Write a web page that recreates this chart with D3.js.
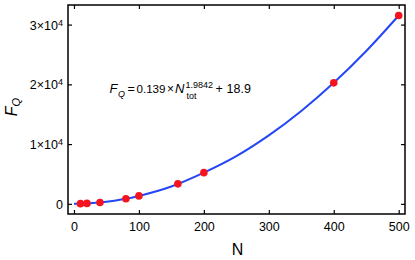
<!DOCTYPE html>
<html>
<head>
<meta charset="utf-8">
<script src="https://cdn.jsdelivr.net/npm/d3@7"></script>
<style>
  body { margin: 0; background: #fff; }
  svg { display: block; font-family: "Liberation Sans", Arial, sans-serif; }
</style>
</head>
<body>
<svg id="chart" width="415" height="260"></svg>
<script>
// measured points
const nValues = [10, 20, 40, 80, 100, 160, 200, 400, 500]
const fqValues = [32, 72, 230, 857, 1327, 3350, 5218, 20250, 31530]

// fit curve
const fitN = [0, 25, 50, 75, 100, 150, 200, 250, 300, 350, 400, 450, 500]
const fitF = [19, 100, 345, 760, 1327, 2907, 5218, 7981, 11450, 15540, 20250, 25575, 31520]

const xTicks = [0, 100, 200, 300, 400, 500]
const yTicks = [0, 10000, 20000, 30000]
const yTickMantissa = ['0', '1', '2', '3']

const frame = {left: 68, right: 405, top: 5, bottom: 214}

const svg = d3.select('#chart')

const x = d3.scaleLinear().domain([-9.2, 509.7]).range([frame.left, frame.right])
const y = d3.scaleLinear().domain([-1700, 33280]).range([frame.bottom, frame.top])

const tickLen = 4

// bottom axis (ticks inward)
const gx = svg.append('g')
    .attr('transform', 'translate(0,' + frame.bottom + ')')
    .call(d3.axisBottom(x).tickValues(xTicks).tickSize(-tickLen).tickPadding(8))
gx.select('.domain').remove()
gx.selectAll('text').style('font-size', '12.5px').attr('fill', '#000')

// top axis ticks only
const gxt = svg.append('g')
    .attr('transform', 'translate(0,' + frame.top + ')')
    .call(d3.axisTop(x).tickValues(xTicks).tickSize(-tickLen).tickFormat(''))
gxt.select('.domain').remove()

// left axis
const gy = svg.append('g')
    .attr('transform', 'translate(' + frame.left + ',0)')
    .call(d3.axisLeft(y).tickValues(yTicks).tickSize(-tickLen).tickFormat(''))
gy.select('.domain').remove()
gy.selectAll('.tick').each(function (d, i) {
    const t = d3.select(this).append('text')
        .attr('x', -5)
        .attr('dy', '0.36em')
        .attr('text-anchor', 'end')
        .attr('fill', '#000')
        .style('font-size', '12.5px')
    if (d === 0) {
        t.text('0')
    } else {
        t.append('tspan').text(yTickMantissa[i] + '\u00d710')
        t.append('tspan').attr('dy', '-0.45em').style('font-size', '9px').text('4')
    }
})

// right axis ticks only
const gyr = svg.append('g')
    .attr('transform', 'translate(' + frame.right + ',0)')
    .call(d3.axisRight(y).tickValues(yTicks).tickSize(-tickLen).tickFormat(''))
gyr.select('.domain').remove()

svg.selectAll('.tick line').attr('stroke', '#000').attr('stroke-width', 1.2)

// frame
svg.append('rect')
    .attr('x', frame.left)
    .attr('y', frame.top)
    .attr('width', frame.right - frame.left)
    .attr('height', frame.bottom - frame.top)
    .attr('fill', 'none')
    .attr('stroke', '#000')
    .attr('stroke-width', 1.5)

// fit line
const line = d3.line()
    .x(function (d, i) { return x(fitN[i]) })
    .y(function (d) { return y(d) })
    .curve(d3.curveCatmullRom.alpha(0.5))

svg.append('path')
    .datum(fitF)
    .attr('d', line)
    .attr('fill', 'none')
    .attr('stroke', '#2447f5')
    .attr('stroke-width', 2)

// points
svg.append('g')
    .selectAll('circle')
    .data(fqValues)
    .join('circle')
    .attr('cx', function (d, i) { return x(nValues[i]) })
    .attr('cy', function (d) { return y(d) })
    .attr('r', 3.8)
    .attr('fill', '#f5141e')

// axis titles
svg.append('text')
    .attr('x', (frame.left + frame.right) / 2 + 1)
    .attr('y', 255)
    .attr('text-anchor', 'middle')
    .style('font-size', '16px')
    .text('N')

const yl = svg.append('text')
    .attr('transform', 'translate(17,107) rotate(-90)')
    .attr('text-anchor', 'middle')
    .style('font-size', '16px')
yl.append('tspan').style('font-style', 'italic').text('F')
yl.append('tspan').attr('dy', '0.3em').style('font-size', '11px').style('font-style', 'italic').text('Q')

// fit formula, pieces placed one by one
const formula = svg.append('g').attr('class', 'formula')
function piece(px, py, txt, size, italic) {
    formula.append('text')
        .attr('x', px)
        .attr('y', py)
        .style('font-size', size + 'px')
        .style('font-style', italic ? 'italic' : 'normal')
        .text(txt)
}
piece(109.5, 93.3, 'F', 13, true)
piece(118, 96.5, 'Q', 9, true)
piece(127.5, 93.3, '=', 12.5, false)
piece(136.5, 93.3, '0.139', 11.6, false)
piece(167, 93.3, '\u00d7', 12, false)
piece(175, 93.3, 'N', 13, true)
piece(185.5, 88, '1.9842', 9, false)
piece(186.5, 98.5, 'tot', 9, false)
piece(215.5, 93.3, '+', 12.5, false)
piece(226.5, 93.3, '18.9', 12.5, false)
</script>
</body>
</html>
